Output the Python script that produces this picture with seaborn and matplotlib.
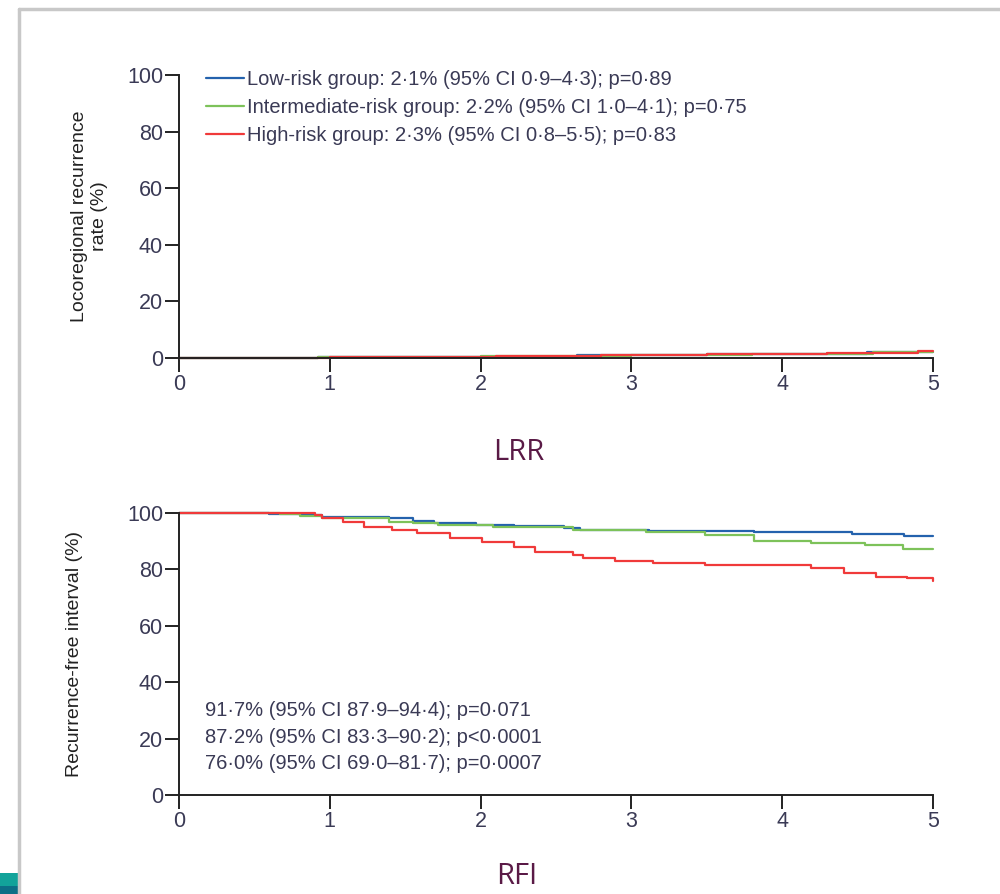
import matplotlib
matplotlib.use("Agg")
import matplotlib.pyplot as plt
import seaborn as sns
import pandas as pd
import numpy as np
from matplotlib.patches import Rectangle
from matplotlib.lines import Line2D

sns.set_theme(style="ticks")
plt.rcParams['font.family'] = ['Liberation Sans', 'DejaVu Sans']

# ---------------- data ----------------
groups = ["Low-risk group", "Intermediate-risk group", "High-risk group"]
colors = ["#2462ad", "#7dc25a", "#f03a3a"]

legend_labels = [
    "Low-risk group: 2·1% (95% CI 0·9–4·3); p=0·89",
    "Intermediate-risk group: 2·2% (95% CI 1·0–4·1); p=0·75",
    "High-risk group: 2·3% (95% CI 0·8–5·5); p=0·83",
]
rfi_labels = [
    "91·7% (95% CI 87·9–94·4); p=0·071",
    "87·2% (95% CI 83·3–90·2); p<0·0001",
    "76·0% (95% CI 69·0–81·7); p=0·0007",
]

# LRR (top panel) step curves
lrr_low_t = [0, 0.92, 1.9, 2.64, 3.5, 4.56, 5.0]
lrr_low_v = [0, 0.2, 0.5, 1.2, 1.3, 2.1, 2.1]
lrr_int_t = [0, 0.92, 1.6, 2.0, 3.0, 3.8, 4.6, 5.0]
lrr_int_v = [0, 0.2, 0.4, 0.7, 1.0, 1.5, 2.0, 2.2]
lrr_high_t = [0, 1.0, 1.7, 2.1, 2.8, 3.5, 4.3, 4.9, 5.0]
lrr_high_v = [0, 0.3, 0.5, 0.8, 1.1, 1.4, 1.8, 2.3, 2.3]

# RFI (bottom panel) step curves
rfi_low_t = [0, 0.6, 0.8, 0.95, 1.39, 1.55, 1.69, 1.97, 2.22, 2.55, 2.66, 3.12, 3.81, 4.46, 4.81, 5.0]
rfi_low_v = [100, 99.6, 99.2, 98.7, 98.1, 97.3, 96.3, 95.9, 95.4, 94.6, 94.0, 93.7, 93.1, 92.4, 91.7, 91.7]
rfi_int_t = [0, 0.67, 0.8, 0.95, 1.39, 1.55, 1.72, 2.08, 2.61, 3.10, 3.49, 3.81, 4.19, 4.55, 4.80, 5.0]
rfi_int_v = [100, 99.6, 99.0, 98.3, 96.9, 96.3, 95.7, 94.9, 94.0, 93.4, 92.2, 90.2, 89.5, 88.7, 87.2, 87.2]
rfi_high_t = [0, 0.90, 0.95, 1.09, 1.23, 1.41, 1.58, 1.80, 2.01, 2.22, 2.36, 2.61, 2.68, 2.89, 3.14, 3.49, 4.12,
              4.19, 4.41, 4.62, 4.83, 5.0]
rfi_high_v = [100, 99.3, 98.1, 96.9, 95.1, 94.0, 92.8, 91.0, 89.8, 88.1, 86.3, 85.1, 83.9, 83.0, 82.4, 81.6, 81.6,
              80.4, 78.6, 77.4, 76.8, 76.0]

xticks = [0, 1, 2, 3, 4, 5]
yticks = [0, 20, 40, 60, 80, 100]

def make_df(ts, vs):
    frames = []
    for g, t, v in zip(groups, ts, vs):
        frames.append(pd.DataFrame({"time": t, "value": v, "group": g}))
    return pd.concat(frames, ignore_index=True)

lrr_df = make_df([lrr_low_t, lrr_int_t, lrr_high_t], [lrr_low_v, lrr_int_v, lrr_high_v])
rfi_df = make_df([rfi_low_t, rfi_int_t, rfi_high_t], [rfi_low_v, rfi_int_v, rfi_high_v])

# ---------------- figure ----------------
fig = plt.figure(figsize=(10, 8.94), dpi=100)
fig.patch.set_facecolor("white")

# slide frame decorations
fig.add_artist(Line2D([0.019, 0.019], [0, 1 - 9 / 894], transform=fig.transFigure, color="#c8c8c8", lw=2.5))
fig.add_artist(Line2D([0.019, 1.0], [1 - 9 / 894, 1 - 9 / 894], transform=fig.transFigure, color="#c8c8c8", lw=2.5))
fig.add_artist(Rectangle((0, 0), 0.018, 21 / 894, transform=fig.transFigure, color="#12a39a", lw=0))
fig.add_artist(Rectangle((0, 0), 0.018, 8 / 894, transform=fig.transFigure, color="#0d6f86", lw=0))

ax1 = fig.add_axes([0.179, 1 - 358 / 894, 0.754, (358 - 75) / 894])
ax2 = fig.add_axes([0.179, 1 - 795 / 894, 0.754, (795 - 513) / 894])

palette = dict(zip(groups, colors))
tick_color = "#3a3a55"

for ax, df in [(ax1, lrr_df), (ax2, rfi_df)]:
    sns.lineplot(data=df, x="time", y="value", hue="group", palette=palette,
                 drawstyle="steps-post", estimator=None, sort=False, lw=1.6, legend=False, ax=ax)
    ax.set_xlim(0, 5)
    ax.set_ylim(0, 100)
    ax.set_xticks(xticks)
    ax.set_yticks(yticks)
    ax.set_xticklabels([str(v) for v in xticks])
    ax.set_yticklabels([str(v) for v in yticks])
    ax.set_xlabel("")
    sns.despine(ax=ax)
    for s in ["left", "bottom"]:
        ax.spines[s].set_color("#222222")
        ax.spines[s].set_linewidth(1.4)
    ax.tick_params(axis="both", direction="out", length=10, width=1.4, color="#222222",
                   labelsize=15.5, labelcolor=tick_color, pad=1.5)
    ax.set_facecolor("none")
    for l in ax.lines:
        l.set_clip_on(False)

ax1.set_ylabel("Locoregional recurrence\nrate (%)", fontsize=14, color="#222222", linespacing=1.25)
ax1.yaxis.set_label_coords(-0.094, 0.5)
ax2.set_ylabel("Recurrence-free interval (%)", fontsize=14, color="#222222")
ax2.yaxis.set_label_coords(-0.127, 0.5)

handles = [Line2D([], [], color=c, lw=1.6) for c in colors]
leg = ax1.legend(handles, legend_labels, loc="upper left", bbox_to_anchor=(0.025, 1.045),
                 frameon=False, fontsize=14.5, handlelength=1.9, handletextpad=0.12,
                 labelspacing=0.45, borderaxespad=0)
for t in leg.get_texts():
    t.set_color(tick_color)

for i, txt in enumerate(rfi_labels):
    ax2.text(0.035, 0.298 - i * 0.093, txt, transform=ax2.transAxes, fontsize=14.5,
             color=tick_color, va="center", ha="left")

fig.text(0.519, 1 - 452 / 894, "LRR", fontsize=21, color="#5a1a46", ha="center", va="center",
         family=["Open Sans", "DejaVu Sans"])
fig.text(0.517, 1 - 877 / 894, "RFI", fontsize=21, color="#5a1a46", ha="center", va="center",
         family=["Open Sans", "DejaVu Sans"])

fig.savefig("out.png", dpi=100, facecolor="white")
